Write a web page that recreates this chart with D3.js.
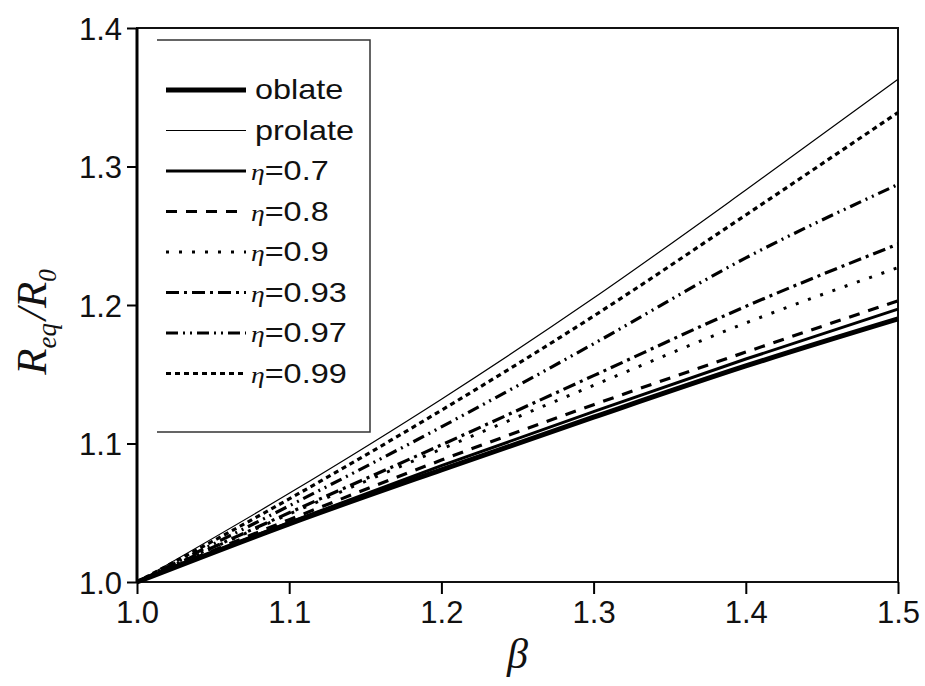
<!DOCTYPE html>
<html>
<head>
<meta charset="utf-8">
<script src="https://cdn.jsdelivr.net/npm/d3@7"></script>
<style>
  body { margin: 0; background: #fff; }
  svg { display: block; }
</style>
</head>
<body>
<div id="chart"></div>
<script>
// ===== data =====
var beta = [1.0, 1.1, 1.2, 1.3, 1.4, 1.5];

var oblate  = [1.0, 1.042, 1.081, 1.119, 1.156, 1.190];
var prolate = [1.0, 1.064, 1.132, 1.205, 1.283, 1.363];
var eta07   = [1.0, 1.043, 1.084, 1.123, 1.161, 1.197];
var eta08   = [1.0, 1.045, 1.088, 1.128, 1.166, 1.203];
var eta09   = [1.0, 1.049, 1.096, 1.142, 1.187, 1.227];
var eta093  = [1.0, 1.050, 1.099, 1.149, 1.199, 1.244];
var eta097  = [1.0, 1.055, 1.112, 1.172, 1.234, 1.287];
var eta099  = [1.0, 1.060, 1.124, 1.192, 1.265, 1.339];

var xTicks = [1.0, 1.1, 1.2, 1.3, 1.4, 1.5];
var yTicks = [1.0, 1.1, 1.2, 1.3, 1.4];

var legendNames = ["oblate", "prolate", "0.7", "0.8", "0.9", "0.93", "0.97", "0.99"];
var allSeries = [oblate, prolate, eta07, eta08, eta09, eta093, eta097, eta099];

// line styles, same order as legendNames
var styles = [
    {w: 5,   dash: null},
    {w: 1.2, dash: null},
    {w: 3,   dash: null},
    {w: 3.2, dash: "11,9"},
    {w: 3,   dash: "3,10"},
    {w: 3.2, dash: "13,5,3,5"},
    {w: 3.2, dash: "12,5,2,5,2,5"},
    {w: 3.2, dash: "5,4"}
];

var W = 925, H = 686;
var svg = d3.select("#chart").append("svg")
    .attr("width", W)
    .attr("height", H);

var x = d3.scaleLinear().domain([1.0, 1.5]).range([137, 898]);
var y = d3.scaleLinear().domain([1.0, 1.4]).range([582, 28]);

// frame
svg.append("rect")
    .attr("x", x(1.0)).attr("y", y(1.4))
    .attr("width", x(1.5) - x(1.0)).attr("height", y(1.0) - y(1.4))
    .attr("fill", "none")
    .attr("stroke", "#111")
    .attr("stroke-width", 2);
svg.append("line")
    .attr("x1", x(1.0)).attr("x2", x(1.0))
    .attr("y1", y(1.4)).attr("y2", y(1.0) + 1)
    .attr("stroke", "#000").attr("stroke-width", 3);

// axes
var xAxis = d3.axisBottom(x).tickValues(xTicks).tickFormat(d3.format(".1f"))
    .tickSizeInner(12).tickSizeOuter(0).tickPadding(7);
var yAxis = d3.axisLeft(y).tickValues(yTicks).tickFormat(d3.format(".1f"))
    .tickSizeInner(10).tickSizeOuter(0).tickPadding(5);

var gx = svg.append("g").attr("transform", "translate(0," + y(1.0) + ")").call(xAxis);
var gy = svg.append("g").attr("transform", "translate(" + x(1.0) + ",0)").call(yAxis);

[gx, gy].forEach(function(g){
    g.select(".domain").remove();
    g.selectAll(".tick line").attr("stroke", "#000").attr("stroke-width", 2);
    g.selectAll(".tick text")
        .attr("fill", "#111")
        .style("font-family", "'Liberation Sans', Arial, sans-serif")
        .style("font-size", "31px");
});
gy.selectAll(".tick text").attr("dy", "0.36em");

// axis titles
svg.append("text")
    .attr("x", x(1.25))
    .attr("y", 668)
    .attr("text-anchor", "middle")
    .style("font-family", "'Liberation Serif', 'Times New Roman', serif")
    .style("font-style", "italic")
    .style("font-size", "42px")
    .attr("fill", "#111")
    .text("β");

var yt = svg.append("text")
    .attr("transform", "translate(46," + 322 + ") rotate(-90)")
    .attr("text-anchor", "middle")
    .style("font-family", "'Liberation Serif', 'Times New Roman', serif")
    .style("font-style", "italic")
    .attr("fill", "#111");
yt.append("tspan").style("font-size", "43px").text("R");
yt.append("tspan").style("font-size", "27px").attr("dy", 10).text("eq");
yt.append("tspan").style("font-size", "43px").attr("dy", -10).attr("dx", 3).text("/");
yt.append("tspan").style("font-size", "43px").text("R");
yt.append("tspan").style("font-size", "25px").attr("dy", 10).text("0");

// lines
var line = d3.line()
    .x(function(d){ return x(d[0]) })
    .y(function(d){ return y(d[1]) })
    .curve(d3.curveMonotoneX);

var plot = svg.append("g");
allSeries.forEach(function(vals, i){
    var pts = beta.map(function(b, j){ return [b, vals[j]] });
    plot.append("path")
        .attr("d", line(pts))
        .attr("fill", "none")
        .attr("stroke", "#000")
        .attr("stroke-width", styles[i].w)
        .attr("stroke-dasharray", styles[i].dash);
});

// legend
var legend = svg.append("g");
legend.append("path")
    .attr("d", "M157,40H370V432H157")
    .attr("fill", "none")
    .attr("stroke", "#333")
    .attr("stroke-width", 1.5);

legendNames.forEach(function(name, i){
    var ly = 90 + i * 40.5;
    legend.append("line")
        .attr("x1", 166).attr("x2", 246)
        .attr("y1", ly).attr("y2", ly)
        .attr("stroke", "#000")
        .attr("stroke-width", styles[i].w)
        .attr("stroke-dasharray", styles[i].dash);

    var g = legend.append("g")
        .attr("transform", "translate(" + (i < 2 ? 255 : 251) + "," + (ly + 9) + ") scale(1.2,1)");
    var t = g.append("text")
        .attr("fill", "#111")
        .style("font-family", "'Liberation Sans', Arial, sans-serif")
        .style("font-size", "27px");
    if (i < 2) {
        t.text(name);
    } else {
        t.append("tspan")
            .style("font-family", "'Liberation Serif', 'Times New Roman', serif")
            .style("font-style", "italic")
            .style("font-size", "23px")
            .text("η");
        t.append("tspan").text("=" + name);
    }
});
</script>
</body>
</html>
